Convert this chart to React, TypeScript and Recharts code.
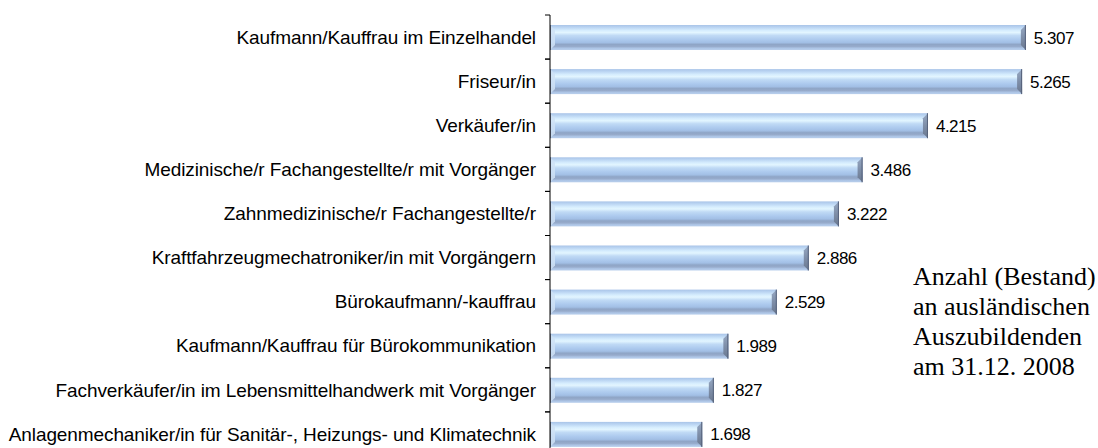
import { BarChart, Bar, XAxis, YAxis, LabelList } from 'recharts';

const CATEGORIES = [
  'Kaufmann/Kauffrau im Einzelhandel',
  'Friseur/in',
  'Verkäufer/in ',
  'Medizinische/r Fachangestellte/r  mit Vorgänger',
  'Zahnmedizinische/r Fachangestellte/r',
  'Kraftfahrzeugmechatroniker/in mit Vorgängern',
  'Bürokaufmann/-kauffrau ',
  'Kaufmann/Kauffrau für Bürokommunikation',
  'Fachverkäufer/in im Lebensmittelhandwerk mit Vorgänger',
  'Anlagenmechaniker/in für Sanitär-, Heizungs- und Klimatechnik',
];

const VALUES = [5307, 5265, 4215, 3486, 3222, 2886, 2529, 1989, 1827, 1698];

const NOTE_LINES = ['Anzahl (Bestand)', 'an ausländischen', 'Auszubildenden', 'am 31.12. 2008'];

const data = CATEGORIES.map((name, i) => ({ name, value: VALUES[i] }));

const TICK_SIZE = 6;
const TICK_MARGIN = 8;

// 5307 -> "5.307"
const fmt = (v: any) => {
  const n = Number(v);
  const k = Math.floor(n / 1000);
  const r = String(n % 1000).padStart(3, '0');
  return k > 0 ? `${k}.${r}` : String(n);
};

// label plus a small tick mark at the band boundary (excel style)
function CatTick(props: any) {
  const { x, y, payload } = props;
  const axisX = x + TICK_SIZE + TICK_MARGIN;
  const half = payload?.offset ?? 0;
  return (
    <g>
      <line x1={axisX - 5} x2={axisX} y1={y - half} y2={y - half} stroke="#000" />
      <line x1={axisX - 5} x2={axisX} y1={y + half} y2={y + half} stroke="#000" />
      <text
        x={x}
        y={y}
        dy="0.355em"
        textAnchor="end"
        fill="#000"
        fontSize={19}
        letterSpacing={-0.1}
        fontFamily="Liberation Sans, Arial, sans-serif"
      >
        {payload.value}
      </text>
    </g>
  );
}

// bevelled light-blue bar, like the old office 3D style
function BevelBar(props: any) {
  const { x, y, width, height, index } = props;
  if (!width || width <= 0) return null;
  const b = 5;
  const id = `barGrad${index}`;
  const rid = `barEnd${index}`;
  return (
    <g>
      <defs>
        <linearGradient id={id} x1="0" y1="0" x2="0" y2="1">
          <stop offset="0" stopColor="#a9c4e8" />
          <stop offset="0.1" stopColor="#bcd6f3" />
          <stop offset="0.22" stopColor="#d6edfe" />
          <stop offset="0.3" stopColor="#e2f5ff" />
          <stop offset="0.42" stopColor="#c0daf5" />
          <stop offset="0.58" stopColor="#adcaee" />
          <stop offset="0.7" stopColor="#a2bfe5" />
          <stop offset="0.78" stopColor="#8fa5c6" />
          <stop offset="0.86" stopColor="#97abcb" />
          <stop offset="0.93" stopColor="#adc5e6" />
          <stop offset="1" stopColor="#b9cfec" />
        </linearGradient>
        <linearGradient id={rid} x1="0" y1="0" x2="0" y2="1">
          <stop offset="0" stopColor="#97a9c4" />
          <stop offset="0.5" stopColor="#7e8ea8" />
          <stop offset="1" stopColor="#6a788f" />
        </linearGradient>
      </defs>
      <rect x={x} y={y} width={width} height={height} fill={`url(#${id})`} />
      <polygon
        points={`${x},${y} ${x + b},${y + b} ${x + b},${y + height - b} ${x},${y + height}`}
        fill="#cfe2f6"
        opacity={0.85}
      />
      <polygon
        points={`${x + width},${y} ${x + width - b},${y + b} ${x + width - b},${y + height - b} ${x + width},${y + height}`}
        fill={`url(#${rid})`}
      />
      <line x1={x + 0.5} y1={y} x2={x + 0.5} y2={y + height} stroke="#7c89a0" strokeWidth={1} />
      <line x1={x + width - 0.5} y1={y} x2={x + width - 0.5} y2={y + height} stroke="#55617a" strokeWidth={1} />
    </g>
  );
}

export default function App() {
  return (
    <div style={{ position: 'absolute', left: 0, top: 0, width: 1098, height: 448, overflow: 'hidden', background: '#fff' }}>
      <BarChart
        width={1098}
        height={456}
        data={data}
        layout="vertical"
        margin={{ top: 15, right: 10, bottom: 0, left: 0 }}
        barSize={25}
      >
        <XAxis type="number" dataKey="value" domain={[0, 6000]} hide />
        <YAxis
          type="category"
          dataKey="name"
          width={550}
          axisLine={{ stroke: '#000' }}
          tickLine={false}
          tickSize={TICK_SIZE}
          tickMargin={TICK_MARGIN}
          interval={0}
          tick={<CatTick />}
        />
        <Bar dataKey="value" shape={<BevelBar />} isAnimationActive={false}>
          <LabelList
            dataKey="value"
            position="right"
            offset={8}
            formatter={fmt}
            style={{ fill: '#000', fontSize: 17, fontFamily: 'Liberation Sans, Arial, sans-serif', letterSpacing: -0.5 }}
          />
        </Bar>
      </BarChart>
      <div
        style={{
          position: 'absolute',
          left: 913,
          top: 262,
          fontFamily: 'Liberation Serif, Times New Roman, serif',
          fontSize: 26,
          lineHeight: '30px',
          color: '#000',
          whiteSpace: 'nowrap',
        }}
      >
        {NOTE_LINES.map((l) => (
          <div key={l}>{l}</div>
        ))}
      </div>
    </div>
  );
}
